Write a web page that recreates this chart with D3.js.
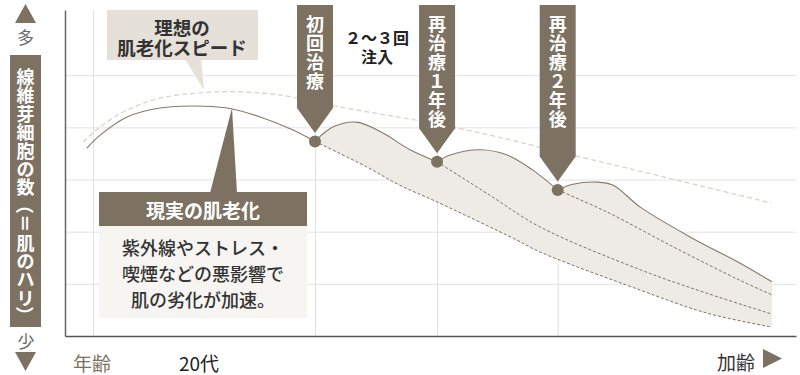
<!DOCTYPE html>
<html><head><meta charset="utf-8">
<script src="https://cdn.jsdelivr.net/npm/d3@7"></script>
<style>
body{margin:0;background:#fff}
svg{display:block}
text{font-family:"Noto Sans CJK JP","Noto Sans",sans-serif}
</style>
</head><body>
<svg id="c" width="800" height="375"></svg>
<script>
// ---------- data (x: age axis 0-100, y: fibroblast level 0-6.25) ----------
const gridYValues = [1, 2, 3, 4, 5];
const gridXValues = [3.83, 34.2, 50.9, 67.4];
const idealCurve = [[2.5,3.72],[4.8,4.01],[8.5,4.33],[13.0,4.56],[20.8,4.68],[26.7,4.66],[31.2,4.58],[36.9,4.41],[53.6,3.99],[70.0,3.45],[96.6,2.55]];
const realCurve = [[3.0,3.60],[4.8,3.85],[8.5,4.20],[13.0,4.37],[17.5,4.41],[22.2,4.37],[26.7,4.20],[31.2,3.95],[34.2,3.73]];
const treatedSeg1 = [[34.2,3.73],[36.7,4.01],[39.9,4.10],[43.5,3.89],[47.2,3.57],[50.9,3.34]];
const treatedSeg2 = [[50.9,3.34],[52.7,3.47],[56.8,3.57],[60.5,3.47],[64.0,3.18],[67.4,2.80]];
const treatedSeg3 = [[67.4,2.80],[69.5,2.91],[72.8,2.95],[75.0,2.89],[78.7,2.47],[85.5,1.90],[92.3,1.40],[96.7,1.04]];
const declineAfter1 = [[34.2,3.73],[41.3,3.24],[45.8,2.89],[50.9,2.57],[61.8,1.84],[65.0,1.61],[78.7,0.88],[87.8,0.44],[96.7,0.17]];
const declineAfter2 = [[50.9,3.34],[58.1,2.70],[65.0,2.09],[78.7,1.27],[87.8,0.82],[96.7,0.42]];
const declineAfter3 = [[67.4,2.80],[74.1,2.38],[83.2,1.71],[92.3,1.07],[96.7,0.79]];
const treatmentPoints = [[34.2,3.73],[50.9,3.34],[67.4,2.80]];
const flagLabels = ["初回治療", "再治療１年後", "再治療２年後"];
const yAxisTitle = ["線","維","芽","細","胞","の","数","（","＝","肌","の","ハ","リ","）"];
const idealLabel = ["理想の", "肌老化スピード"];
const realTitle = "現実の肌老化";
const realBody = ["紫外線やストレス・", "喫煙などの悪影響で", "肌の劣化が加速。"];
const injectLabel = ["２〜３回", "注入"];
const xLabels = {start: "年齢", age: "20代", end: "加齢"};
const yLabels = {high: "多", low: "少"};

// ---------- drawing ----------
const DARK = "#7d7262";
const svg = d3.select("#c");
const x = d3.scaleLinear().domain([0, 100]).range([65, 796]);
const y = d3.scaleLinear().domain([0, 6.25]).range([336, 10]);
const W = 796 - 65, H = 336 - 10;

// grid
const gy = svg.append("g").attr("transform", "translate(65,0)")
  .call(d3.axisLeft(y).tickValues(gridYValues).tickSize(-W).tickFormat("").tickSizeOuter(0));
gy.select(".domain").remove();
gy.selectAll(".tick line").attr("stroke", "#e2e2e2");
const gx = svg.append("g").attr("transform", "translate(0,336)")
  .call(d3.axisBottom(x).tickValues(gridXValues).tickSize(-H).tickFormat("").tickSizeOuter(0));
gx.select(".domain").remove();
gx.selectAll(".tick line").attr("stroke", "#e2e2e2");

// axis lines
const ay = svg.append("g").attr("transform", "translate(65,0)")
  .call(d3.axisLeft(y).tickValues([]).tickSizeOuter(0));
ay.select(".domain").attr("stroke", "#666").attr("stroke-width", 1.5);
const ax = svg.append("g").attr("transform", "translate(0,336)")
  .call(d3.axisBottom(x).tickValues([]).tickSizeOuter(0));
ax.select(".domain").attr("stroke", "#5a5550").attr("stroke-width", 1.5);

const line = d3.line().x(d => x(d[0])).y(d => y(d[1])).curve(d3.curveCatmullRom.alpha(0.5));

// fill band
const bandPath = line(treatedSeg1)
  + line(treatedSeg2).replace(/^M/, "L")
  + line(treatedSeg3).replace(/^M/, "L")
  + line(declineAfter1.slice().reverse()).replace(/^M/, "L") + "Z";
svg.append("path").attr("d", bandPath).attr("fill", "#eeebe6");

// ideal dashed
svg.append("path").attr("d", line(idealCurve)).attr("fill", "none")
  .attr("stroke", "#d8d1c5").attr("stroke-width", 1.2).attr("stroke-dasharray", "5,3");
// real solid
svg.append("path").attr("d", line(realCurve)).attr("fill", "none")
  .attr("stroke", "#857a6a").attr("stroke-width", 1.1);
[treatedSeg1, treatedSeg2, treatedSeg3].forEach(s =>
  svg.append("path").attr("d", line(s)).attr("fill", "none")
    .attr("stroke", "#857a6a").attr("stroke-width", 1.1));
[declineAfter1, declineAfter2, declineAfter3].forEach(s =>
  svg.append("path").attr("d", line(s)).attr("fill", "none")
    .attr("stroke", "#7d7262").attr("stroke-width", 1).attr("stroke-dasharray", "3,2"));

// flags
treatmentPoints.forEach((p, i) => {
  const cx = x(p[0]), tip = y(p[1]) - 8.5, top = 5, hw = 18, bottom = tip - 25;
  svg.append("path")
    .attr("d", `M${cx-hw},${top}H${cx+hw}V${bottom}L${cx},${tip}L${cx-hw},${bottom}Z`)
    .attr("fill", DARK);
  Array.from(flagLabels[i]).forEach((ch, k) => {
    svg.append("text").attr("x", cx).attr("y", 22.5 + 19 * k)
      .attr("text-anchor", "middle").attr("dominant-baseline", "central")
      .attr("fill", "#fff").attr("font-weight", 700).attr("font-size", 18).text(ch);
  });
});
// dots
svg.selectAll("circle.dot").data(treatmentPoints).join("circle")
  .attr("class", "dot").attr("cx", d => x(d[0])).attr("cy", d => y(d[1])).attr("r", 6).attr("fill", DARK);

// 2~3回 注入
injectLabel.forEach((t, i) => {
  svg.append("text").attr("x", 377).attr("y", 37 + 18.5 * i)
    .attr("text-anchor", "middle").attr("dominant-baseline", "central")
    .attr("fill", "#222").attr("font-weight", 700).attr("font-size", 16).text(t);
});

// ideal bubble
svg.append("path").attr("d", "M185,59L201,59L204,90Z").attr("fill", "#e5e0d8");
svg.append("rect").attr("x", 107).attr("y", 10).attr("width", 151).attr("height", 50).attr("fill", "#e5e0d8");
idealLabel.forEach((t, i) => {
  svg.append("text").attr("x", 182).attr("y", 26.5 + 20.2 * i)
    .attr("text-anchor", "middle").attr("dominant-baseline", "central")
    .attr("fill", "#333").attr("font-weight", 700).attr("font-size", 18.5).text(t);
});

// real box
svg.append("path").attr("d", "M210,193L237,193L232,108Z").attr("fill", DARK);
svg.append("rect").attr("x", 99).attr("y", 192).attr("width", 208).attr("height", 34).attr("fill", DARK);
svg.append("rect").attr("x", 99).attr("y", 226).attr("width", 208).attr("height", 92).attr("fill", "#f6f5f2");
svg.append("text").attr("x", 203).attr("y", 209.5).attr("text-anchor", "middle").attr("dominant-baseline", "central")
  .attr("fill", "#fff").attr("font-weight", 700).attr("font-size", 19).text(realTitle);
realBody.forEach((t, i) => {
  svg.append("text").attr("x", 203).attr("y", 247 + 25.8 * i)
    .attr("text-anchor", "middle").attr("dominant-baseline", "central")
    .attr("fill", "#333").attr("font-weight", 500).attr("font-size", 18).text(t);
});

// y-axis title
svg.append("rect").attr("x", 10).attr("y", 55).attr("width", 31).attr("height", 272).attr("fill", DARK);
yAxisTitle.forEach((ch, k) => {
  const cy = 76 + 18.4 * k;
  const t = svg.append("text").attr("x", 25.5).attr("y", cy)
    .attr("text-anchor", "middle").attr("dominant-baseline", "central")
    .attr("fill", "#fff").attr("font-weight", 700).attr("font-size", 18).text(ch);
  if ("（＝）".includes(ch)) t.attr("transform", `rotate(90,25.5,${cy})`);
});
// 多 / 少 arrows
svg.append("path").attr("d", "M15,23L25.5,4L36,23Z").attr("fill", DARK);
svg.append("text").attr("x", 25.5).attr("y", 36).attr("text-anchor", "middle").attr("dominant-baseline", "central")
  .attr("fill", "#6a6a6a").attr("font-size", 17).text(yLabels.high);
svg.append("text").attr("x", 26).attr("y", 340).attr("text-anchor", "middle").attr("dominant-baseline", "central")
  .attr("fill", "#6a6a6a").attr("font-size", 17).text(yLabels.low);
svg.append("path").attr("d", "M15,352L36,352L25.5,371Z").attr("fill", DARK);

// x labels
svg.append("text").attr("x", 73).attr("y", 362).attr("dominant-baseline", "central")
  .attr("fill", DARK).attr("font-size", 19).text(xLabels.start);
svg.append("text").attr("x", 179).attr("y", 362).attr("dominant-baseline", "central")
  .attr("fill", "#222").attr("font-size", 19).text(xLabels.age);
svg.append("text").attr("x", 755).attr("y", 361).attr("text-anchor", "end").attr("dominant-baseline", "central")
  .attr("fill", "#333").attr("font-size", 19).text(xLabels.end);
svg.append("path").attr("d", "M763,349L782,358.5L763,368Z").attr("fill", DARK);
</script>
</body></html>
